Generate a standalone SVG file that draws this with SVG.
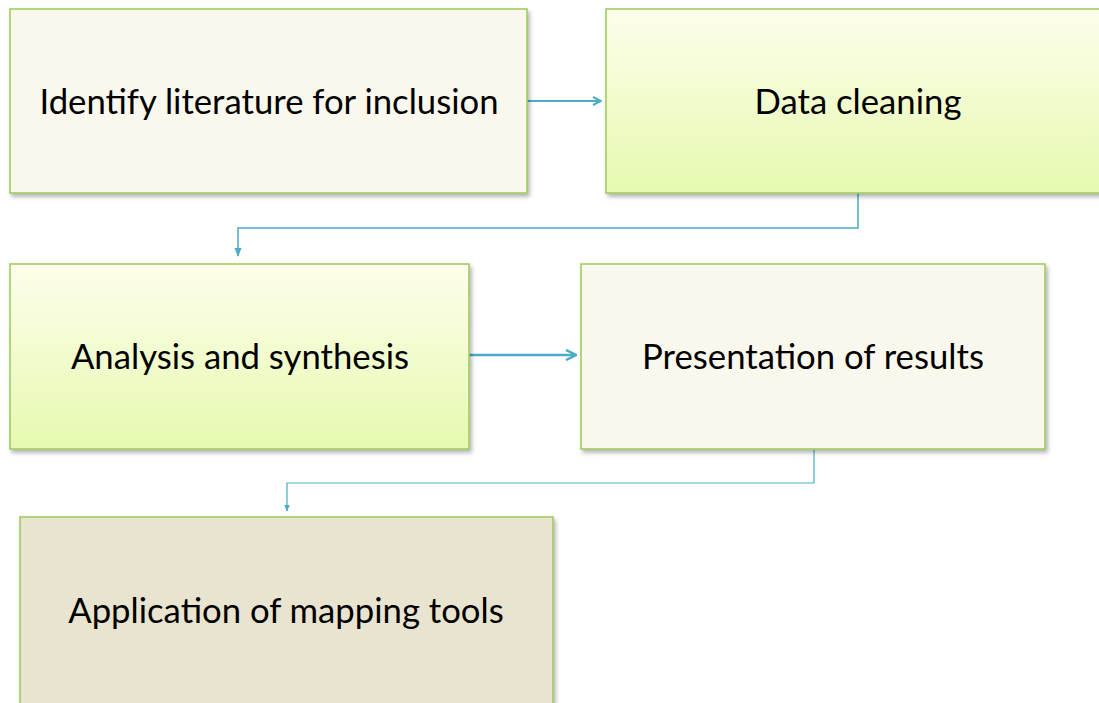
<svg xmlns="http://www.w3.org/2000/svg" width="1099" height="703" viewBox="0 0 1099 703">
<style>
.box{stroke:#9bc95a;stroke-width:1.5}
.lbl{font-family:Lato,"Open Sans",sans-serif;font-size:34.7px;fill:#000;text-anchor:middle;dominant-baseline:central}
.con{fill:none;stroke:#4bacc6}
</style>
<defs>
<linearGradient id="g" x1="0" y1="0" x2="0" y2="1">
<stop offset="0" stop-color="#fdfeeb"/>
<stop offset="1" stop-color="#e6f9b0"/>
</linearGradient>
<filter id="sh" x="-5%" y="-5%" width="115%" height="120%">
<feDropShadow dx="2" dy="3" stdDeviation="2" flood-color="#000" flood-opacity="0.3"/>
</filter>
<marker id="ah" viewBox="0 0 10 10" refX="9" refY="5" markerWidth="5" markerHeight="5" orient="auto" markerUnits="strokeWidth">
<path d="M1,1 L9,5 L1,9" fill="none" stroke="#4bacc6" stroke-width="2"/>
</marker>
<marker id="ah2" viewBox="0 0 10 10" refX="9" refY="5" markerWidth="6" markerHeight="6" orient="auto" markerUnits="strokeWidth">
<path d="M0,1 L10,5 L0,9 Z" fill="#4bacc6"/>
</marker>
</defs>
<g id="connectors">
<path class="con" d="M527,101 H601" stroke-width="2" marker-end="url(#ah)"/>
<path class="con" d="M858,193 V228 H238 V256" stroke-width="1.5" marker-end="url(#ah2)"/>
<path class="con" d="M469,355 H576" stroke-width="2.5" marker-end="url(#ah)"/>
<path class="con" d="M814,449 V483 H287 V511" stroke-width="1.2" marker-end="url(#ah2)"/>
</g>
<g id="n1"><rect class="box" x="10" y="9" width="517" height="184" fill="#faf8ec" filter="url(#sh)"/><text class="lbl" x="269" y="100">Identify literature for inclusion</text></g>
<g id="n2"><rect class="box" x="606" y="9" width="500" height="184" fill="url(#g)" filter="url(#sh)"/><text class="lbl" x="858" y="100">Data cleaning</text></g>
<g id="n3"><rect class="box" x="10" y="264" width="459" height="185" fill="url(#g)" filter="url(#sh)"/><text class="lbl" x="240" y="355">Analysis and synthesis</text></g>
<g id="n4"><rect class="box" x="581" y="264" width="464" height="185" fill="#faf8ec" filter="url(#sh)"/><text class="lbl" x="813" y="355">Presentation of results</text></g>
<g id="n5"><rect class="box" x="20" y="517" width="533" height="195" fill="#e8e4cf" filter="url(#sh)"/><text class="lbl" x="286" y="609">Application of mapping tools</text></g>
</svg>
